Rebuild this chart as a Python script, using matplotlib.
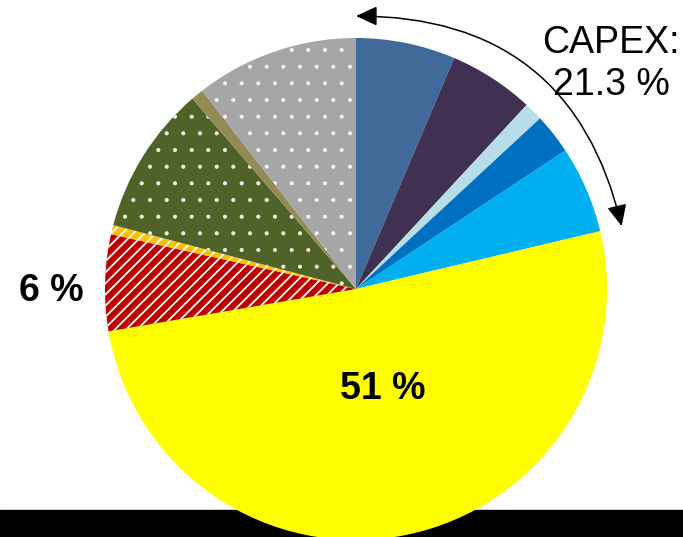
import numpy as np
import matplotlib
matplotlib.use('Agg')
import matplotlib.pyplot as plt
from matplotlib.patches import Rectangle

plt.rcParams['font.family'] = ['Liberation Sans', 'DejaVu Sans']
plt.rcParams['hatch.linewidth'] = 1.3

# cost shares, %, clockwise from the top
shares = [6.4, 5.5, 1.2, 2.6, 5.6, 51.0, 6.2, 0.6, 9.6, 0.8, 10.5]
colors = ['#3F6A9A', '#403152', '#B7DEE8', '#0070C0', '#00B0F0', '#FFFF00',
          '#C00000', '#FFC000', '#4F6228', '#948A54', '#A6A6A6']
hatches = ['', '', '', '', '', '', '///', '///', '.', '', '.']
capex_label = 'CAPEX:\n21.3 %'
big_label = '51 %'
small_label = '6 %'

W, H = 683, 537
fig = plt.figure(figsize=(W / 100, H / 100), dpi=100)
ax = fig.add_axes([0, 0, 1, 1])

cx, cy, R = 356, 537 - 289, 251

# black strip along the bottom edge, behind the pie
ax.add_patch(Rectangle((0, 0), W, 27, color='black', zorder=0))

wedges, _ = ax.pie(shares, colors=colors, startangle=90, counterclock=False,
                   center=(cx, cy), radius=R, frame=True,
                   wedgeprops=dict(linewidth=0))
for w, h in zip(wedges, hatches):
    w.set_zorder(2)
    if h:
        w.set_hatch(h)
        w.set_edgecolor('#F2F2F2' if h == '.' else 'white')
        w.set_linewidth(0)
        if h == '.':
            # finer dots than the stripes
            if hasattr(w, 'set_hatch_linewidth'):
                w.set_hatch_linewidth(0.5)
            else:
                w._hatch_linewidth = 0.5

# double arrow around the capital cost slices
capex_end = 90 - 360 * sum(shares[:5]) / 100
ra = 273
p0 = (cx, cy + ra)
p1 = (cx + ra * np.cos(np.radians(capex_end)), cy + ra * np.sin(np.radians(capex_end)))
theta = np.radians(90 - capex_end)
ax.annotate('', xy=p1, xytext=p0,
            arrowprops=dict(arrowstyle='<|-|>,head_length=0.65,head_width=0.3',
                            connectionstyle='arc3,rad=%.3f' % (-np.tan(theta / 2) / 2),
                            color='black', lw=1.1, mutation_scale=20,
                            shrinkA=0, shrinkB=0))

ax.text(611, 537 - 64, capex_label, ha='center', va='center', fontsize=27,
        linespacing=1.2, zorder=5)
ax.text(383, 537 - 389, big_label, ha='center', va='center', fontsize=27,
        fontweight='bold', zorder=5)
ax.text(51, 537 - 291, small_label, ha='center', va='center', fontsize=27,
        fontweight='bold', zorder=5)

ax.set_xlim(0, W)
ax.set_ylim(0, H)
ax.set_aspect('equal')
ax.axis('off')

fig.savefig('out.png', dpi=100)
